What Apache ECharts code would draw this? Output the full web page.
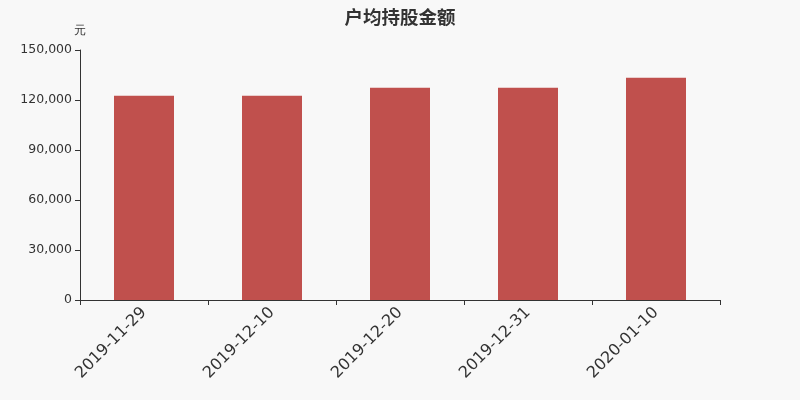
<!DOCTYPE html>
<html><head><meta charset="utf-8">
<script src="https://cdn.jsdelivr.net/npm/echarts@6/dist/echarts.min.js"></script>
<style>html,body{margin:0;padding:0;background:#f8f8f8}#c{width:800px;height:400px}</style>
</head><body><div id="c"></div>
<script>
const categories = ['2019-11-29','2019-12-10','2019-12-20','2019-12-31','2020-01-10'];
const values = [122600, 122600, 127400, 127400, 133400];
const yTicks = {min:0, max:150000, interval:30000};

const chart = echarts.init(document.getElementById('c'));
chart.setOption({
  backgroundColor:'#f8f8f8',
  animation:false,
  title:{text:'户均持股金额', left:'center', top:3, textStyle:{fontSize:18.5, fontWeight:'bold', color:'#333', fontFamily:'Noto Sans CJK SC'}},
  grid:{left:80, right:80, top:50, bottom:100},
  xAxis:{type:'category', data:categories,
    axisLine:{lineStyle:{color:'#333'}},
    axisTick:{show:true, alignWithLabel:false, lineStyle:{color:'#333'}},
    axisLabel:{rotate:45, fontSize:16, color:'#333', margin:10, fontFamily:'DejaVu Sans'}},
  yAxis:{type:'value', min:yTicks.min, max:yTicks.max, interval:yTicks.interval,
    name:'元', nameGap:13, nameTextStyle:{color:'#333', fontSize:12, align:'center'},
    axisLine:{show:true, lineStyle:{color:'#333'}},
    axisTick:{show:true, lineStyle:{color:'#333'}},
    splitLine:{show:false},
    axisLabel:{color:'#333', fontSize:12.5, fontFamily:'DejaVu Sans', formatter:v=>v.toLocaleString('en-US')}},
  series:[{type:'bar', data:values, barWidth:60, itemStyle:{color:'#c0504d'}}]
});
</script></body></html>
